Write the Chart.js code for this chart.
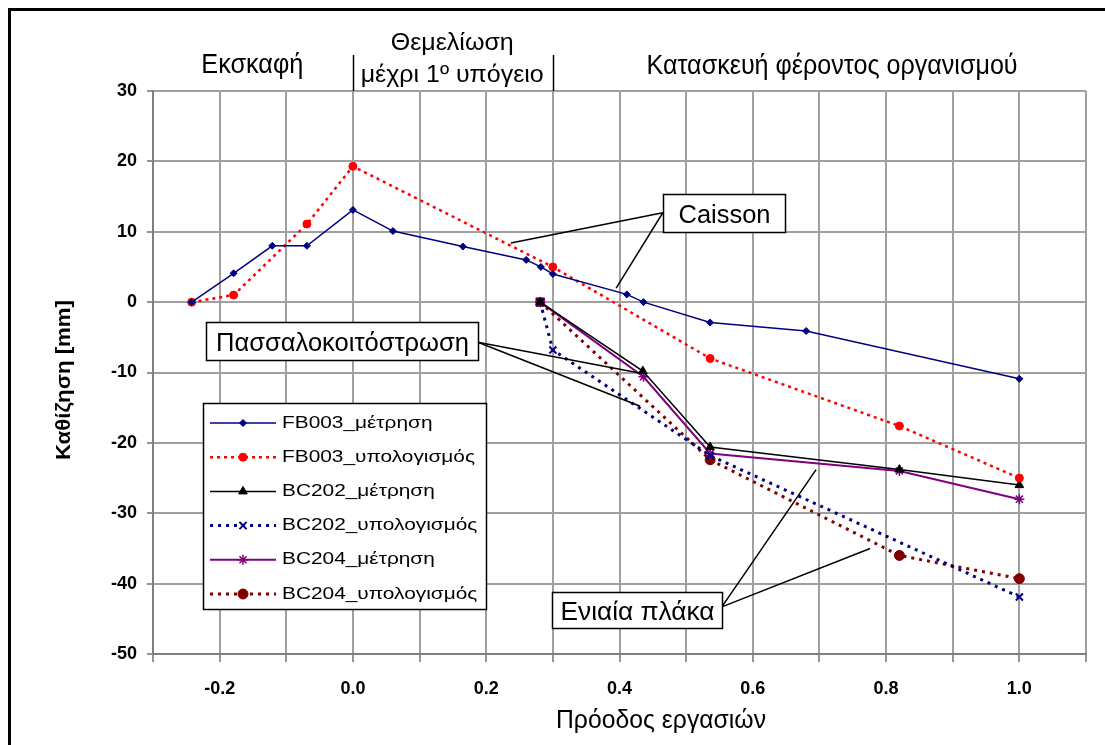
<!DOCTYPE html>
<html><head><meta charset="utf-8">
<script src="https://cdn.jsdelivr.net/npm/chart.js@4.4.1/dist/chart.umd.min.js"></script>
<style>html,body{margin:0;padding:0;background:#fff;overflow:hidden}</style>
</head><body>
<canvas id="c" width="1105" height="745"></canvas>
<script>
// ---------- DATA ----------
const seriesNames = ['FB003_μέτρηση','FB003_υπολογισμός','BC202_μέτρηση','BC202_υπολογισμός','BC204_μέτρηση','BC204_υπολογισμός'];
const fb003MeasX = [-0.242,-0.179,-0.121,-0.069,0.0,0.06,0.165,0.26,0.282,0.30,0.411,0.436,0.536,0.68,1.0];
const fb003MeasY = [0,4.1,8,8,13.1,10.1,7.9,6,5,4,1.1,0,-2.9,-4.1,-10.9];
const fb003CalcX = [-0.242,-0.179,-0.069,0.0,0.30,0.536,0.82,1.0];
const fb003CalcY = [0,1,11.1,19.3,5,-8,-17.6,-25];
const bc202MeasX = [0.281,0.435,0.536,0.82,1.0];
const bc202MeasY = [0,-9.8,-20.6,-23.8,-26];
const bc202CalcX = [0.281,0.30,0.536,1.0];
const bc202CalcY = [0,-6.8,-21.8,-41.9];
const bc204MeasX = [0.281,0.436,0.536,0.82,1.0];
const bc204MeasY = [0,-10.6,-21.5,-24,-28];
const bc204CalcX = [0.281,0.536,0.82,1.0];
const bc204CalcY = [0,-22.4,-36,-39.3];

const xLabelValues = [-0.2,0.0,0.2,0.4,0.6,0.8,1.0];
const xLabelTexts  = ['-0.2','0.0','0.2','0.4','0.6','0.8','1.0'];
const yLabelValues = [-50,-40,-30,-20,-10,0,10,20,30];
const yLabelTexts  = ['-50','-40','-30','-20','-10','0','10','20','30'];

const xAxisTitle = 'Πρόοδος εργασιών';
const yAxisTitle = 'Καθίζηση [mm]';
const phaseTexts = ['Εκσκαφή','Θεμελίωση','μέχρι 1º υπόγειο','Κατασκευή φέροντος οργανισμού'];
const phaseBoundaries = [0.0, 0.3];
const calloutTexts = ['Caisson','Πασσαλοκοιτόστρωση','Ενιαία πλάκα'];

// ---------- helpers ----------
const zip = (xs, ys) => xs.map((x, i) => ({x, y: ys[i]}));
const SANS = '"Liberation Sans", Arial, sans-serif';
const NARROW = '"Liberation Sans Narrow","Arial Narrow","Liberation Sans",Arial,sans-serif';

function fitText(ctx, text, cx, baseline, width, font, color, rot) {
  ctx.save();
  ctx.font = font;
  const w = ctx.measureText(text).width;
  const s = width / w;
  ctx.translate(cx, baseline);
  if (rot) ctx.rotate(rot);
  ctx.scale(s, 1);
  ctx.textAlign = 'center';
  ctx.textBaseline = 'alphabetic';
  ctx.fillStyle = color || '#000';
  ctx.fillText(text, 0, 0);
  ctx.restore();
}

const datasets = [
  {label: seriesNames[0], data: zip(fb003MeasX, fb003MeasY), borderColor:'#000080', backgroundColor:'#000080',
   borderWidth:1.5, pointStyle:'rectRot', pointRadius:3.5, pointBorderWidth:1},
  {label: seriesNames[1], data: zip(fb003CalcX, fb003CalcY), borderColor:'#ff0000', backgroundColor:'#ff0000',
   borderWidth:2.5, borderDash:[3,4], pointStyle:'circle', pointRadius:4, pointBorderWidth:1},
  {label: seriesNames[2], data: zip(bc202MeasX, bc202MeasY), borderColor:'#000000', backgroundColor:'#000000',
   borderWidth:1.5, pointStyle:'triangle', pointRadius:5, pointBorderWidth:1},
  {label: seriesNames[3], data: zip(bc202CalcX, bc202CalcY), borderColor:'#000080', backgroundColor:'#000080',
   borderWidth:3, borderDash:[3,5], pointStyle:'crossRot', pointRadius:5, pointBorderWidth:2},
  {label: seriesNames[4], data: zip(bc204MeasX, bc204MeasY), borderColor:'#800080', backgroundColor:'#800080',
   borderWidth:2, pointStyle:'star', pointRadius:5, pointBorderWidth:1.5},
  {label: seriesNames[5], data: zip(bc204CalcX, bc204CalcY), borderColor:'#800000', backgroundColor:'#800000',
   borderWidth:3, borderDash:[3,5], pointStyle:['rect','circle','circle','circle'], pointRadius:[6,5,5,5],
   pointBorderWidth:1, pointBorderColor:['#800080','#800000','#800000','#800000']}
];
datasets.forEach(d => { d.showLine = true; d.fill = false; d.tension = 0; });

const overlayPlugin = {
  id: 'overlay',
  afterDatasetsDraw(chart) {
    const ctx = chart.ctx;
    const X = v => chart.scales.x.getPixelForValue(v);
    const Y = v => chart.scales.y.getPixelForValue(v);
    const top = chart.chartArea.top;

    // phase labels and boundaries
    ctx.save();
    ctx.strokeStyle = '#000'; ctx.lineWidth = 1.5;
    phaseBoundaries.forEach(b => {
      const x = Math.round(X(b)) + 0.5;
      ctx.beginPath(); ctx.moveTo(x, 55); ctx.lineTo(x, top); ctx.stroke();
    });
    ctx.restore();
    fitText(ctx, phaseTexts[0], X(-0.151), 73, 102, '28px ' + SANS);
    fitText(ctx, phaseTexts[1], X(0.149), 50, 123, '24px ' + SANS);
    fitText(ctx, phaseTexts[2], X(0.149), 82, 183, '24px ' + SANS);
    fitText(ctx, phaseTexts[3], X(0.719), 74, 371, '28px ' + SANS);

    // callouts
    const callouts = [
      {text: calloutTexts[0], x0: 0.465, x1: 0.648, y0: 15.36, y1: 9.96, tw: 92,
       anchor: [0.465, 12.7], targets: [[0.237, 8.4], [0.395, 2.0]]},
      {text: calloutTexts[1], x0: -0.2206, x1: 0.1876, y0: -2.83, y1: -8.25, tw: 253,
       anchor: [0.1876, -5.7], targets: [[0.432, -10.1], [0.431, -14.8]]},
      {text: calloutTexts[2], x0: 0.298, x1: 0.5536, y0: -41.2, y1: -46.3, tw: 154,
       anchor: [0.5536, -43.3], targets: [[0.695, -23.8], [0.776, -35.0]]}
    ];
    ctx.save();
    ctx.strokeStyle = '#000'; ctx.lineWidth = 1.5;
    callouts.forEach(c => {
      c.targets.forEach(t => {
        ctx.beginPath(); ctx.moveTo(X(c.anchor[0]), Y(c.anchor[1])); ctx.lineTo(X(t[0]), Y(t[1])); ctx.stroke();
      });
    });
    callouts.forEach(c => {
      const l = Math.round(X(c.x0)) + 0.5, r = Math.round(X(c.x1)) + 0.5;
      const t = Math.round(Y(c.y0)) + 0.5, b = Math.round(Y(c.y1)) + 0.5;
      ctx.fillStyle = '#fff'; ctx.fillRect(l, t, r - l, b - t);
      ctx.strokeStyle = '#000'; ctx.lineWidth = 1.5; ctx.strokeRect(l, t, r - l, b - t);
      fitText(ctx, c.text, (l + r) / 2, (t + b) / 2 + 9, c.tw, '25px ' + SANS);
    });
    ctx.restore();

    // legend
    const lx0 = 203, ly0 = 403, lx1 = 486, ly1 = 609;
    ctx.save();
    ctx.fillStyle = '#fff'; ctx.fillRect(lx0, ly0, lx1 - lx0, ly1 - ly0);
    ctx.strokeStyle = '#000'; ctx.lineWidth = 1.5; ctx.strokeRect(lx0 + 0.5, ly0 + 0.5, lx1 - lx0, ly1 - ly0);
    ctx.font = '17px ' + SANS;
    const ref = ctx.measureText(seriesNames[1]).width;
    const sc = 193 / ref;
    chart.data.datasets.forEach((d, i) => {
      const y = 423 + i * 34.2;
      ctx.save();
      ctx.strokeStyle = d.borderColor; ctx.lineWidth = d.borderWidth;
      ctx.setLineDash(d.borderDash || []);
      ctx.beginPath(); ctx.moveTo(210, y); ctx.lineTo(276, y); ctx.stroke();
      ctx.setLineDash([]);
      ctx.fillStyle = d.backgroundColor; ctx.strokeStyle = d.borderColor;
      const ps = Array.isArray(d.pointStyle) ? d.pointStyle[d.pointStyle.length - 1] : d.pointStyle;
      const pr = Array.isArray(d.pointRadius) ? d.pointRadius[d.pointRadius.length - 1] : d.pointRadius;
      ctx.lineWidth = d.pointBorderWidth || 1;
      Chart.helpers.drawPoint(ctx, {pointStyle: ps, radius: pr, rotation: 0, borderWidth: d.pointBorderWidth || 1}, 243, y);
      ctx.restore();
      ctx.save();
      ctx.font = '17px ' + SANS; ctx.fillStyle = '#000';
      ctx.textAlign = 'left'; ctx.textBaseline = 'middle';
      ctx.translate(282, y); ctx.scale(sc, 1);
      ctx.fillText(d.label, 0, 0);
      ctx.restore();
    });
    ctx.restore();

    // axis titles
    fitText(ctx, xAxisTitle, 661, 728, 210, '25px ' + SANS);
    fitText(ctx, yAxisTitle, 70, 380, 160, 'bold 21px ' + SANS, '#000', -Math.PI / 2);

    // frame
    ctx.save();
    ctx.fillStyle = '#000';
    ctx.fillRect(8, 8, 3, 737);
    ctx.fillRect(8, 8, 1097, 3);
    ctx.restore();
  }
};

new Chart(document.getElementById('c'), {
  type: 'scatter',
  data: {datasets},
  plugins: [overlayPlugin],
  options: {
    responsive: false,
    animation: false,
    layout: {padding: {top: 91, right: 19, bottom: 0, left: 0}},
    plugins: {legend: {display: false}, tooltip: {enabled: false}},
    scales: {
      x: {
        type: 'linear', min: -0.3, max: 1.1,
        afterFit: s => { s.height = 91; },
        afterBuildTicks: s => { s.ticks = Array.from({length: 15}, (_, i) => ({value: Math.round((-0.3 + i * 0.1) * 10) / 10})); },
        ticks: {
          autoSkip: false, maxRotation: 0, padding: 16, color: '#000',
          font: {family: NARROW, size: 18, weight: 'bold'},
          callback: v => { const k = xLabelValues.findIndex(a => Math.abs(a - v) < 1e-6); return k >= 0 ? xLabelTexts[k] : ''; }
        },
        grid: {color: '#a0a0a0', lineWidth: 2, tickLength: 8, tickColor: '#707070', tickWidth: 1.5},
        border: {color: '#808080', width: 2}
      },
      y: {
        type: 'linear', min: -50, max: 30,
        afterFit: s => { s.width = 153; },
        afterBuildTicks: s => { s.ticks = yLabelValues.map(v => ({value: v})); },
        ticks: {
          padding: 10, color: '#000',
          font: {family: NARROW, size: 18, weight: 'bold'},
          callback: v => { const k = yLabelValues.indexOf(v); return k >= 0 ? yLabelTexts[k] : ''; }
        },
        grid: {color: '#a0a0a0', lineWidth: 2, tickLength: 6, tickColor: '#707070', tickWidth: 1.5},
        border: {color: '#808080', width: 2}
      }
    }
  }
});
</script>
</body></html>
